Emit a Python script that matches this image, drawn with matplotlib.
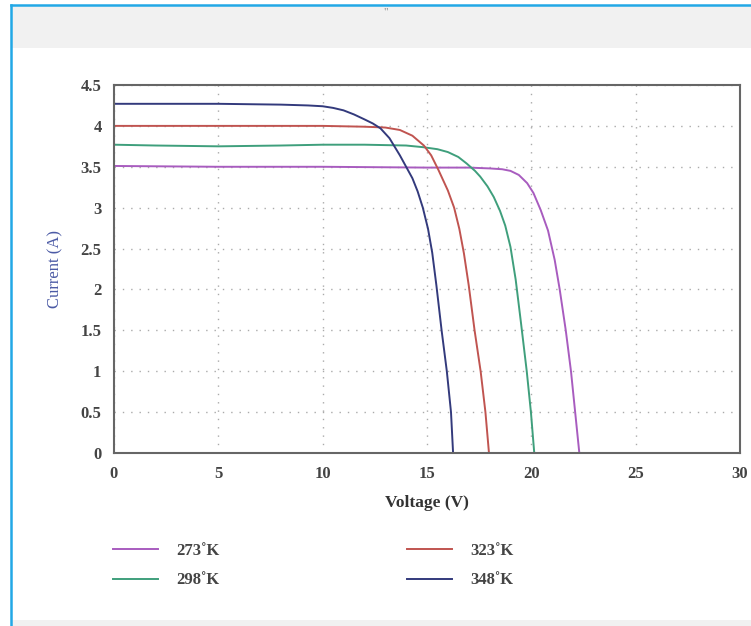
import matplotlib
matplotlib.use("Agg")
import matplotlib.pyplot as plt
from matplotlib.patches import Rectangle
from matplotlib.lines import Line2D

# ---- data ----
labels = ["273˚K", "298˚K", "323˚K", "348˚K"]
colors = ["#a85cbf", "#3f9f7c", "#c05450", "#333a7c"]

v_273 = [0, 5, 10, 15, 17, 18.0, 18.6, 19.0, 19.4, 19.8, 20.1, 20.45, 20.8, 21.12, 21.36, 21.65, 21.9, 22.1, 22.3]
i_273 = [3.51, 3.50, 3.50, 3.49, 3.49, 3.48, 3.47, 3.45, 3.40, 3.30, 3.18, 2.97, 2.72, 2.36, 2.0, 1.5, 1.0, 0.5, 0.0]

v_298 = [0, 2, 5, 8, 10, 12, 14, 14.8, 15.5, 16.0, 16.5, 16.9, 17.3, 17.55, 17.9, 18.2, 18.5, 18.75, 19.0, 19.25, 19.5, 19.78, 19.98, 20.14]
i_298 = [3.77, 3.76, 3.75, 3.76, 3.77, 3.77, 3.76, 3.74, 3.715, 3.68, 3.62, 3.54, 3.45, 3.38, 3.26, 3.13, 2.96, 2.78, 2.52, 2.12, 1.6, 1.0, 0.5, 0.0]

v_323 = [0, 5, 10, 12, 13, 13.7, 14.3, 14.85, 15.2, 15.55, 16.0, 16.3, 16.55, 16.77, 17.0, 17.28, 17.57, 17.8, 17.97]
i_323 = [4.0, 4.0, 4.0, 3.99, 3.98, 3.95, 3.88, 3.76, 3.64, 3.46, 3.21, 3.0, 2.74, 2.44, 2.05, 1.5, 1.0, 0.5, 0.0]

v_348 = [0, 5, 8, 9.3, 10.0, 10.5, 11.0, 11.5, 12.0, 12.4, 12.77, 13.2, 13.7, 14.3, 14.55, 14.8, 15.05, 15.25, 15.45, 15.7, 15.95, 16.15, 16.25]
i_348 = [4.27, 4.27, 4.26, 4.25, 4.24, 4.22, 4.19, 4.14, 4.08, 4.03, 3.97, 3.85, 3.64, 3.36, 3.2, 3.0, 2.74, 2.45, 2.05, 1.5, 1.0, 0.5, 0.0]

series = [(v_273, i_273), (v_298, i_298), (v_323, i_323), (v_348, i_348)]

x_ticks = [0, 5, 10, 15, 20, 25, 30]
y_ticks = [0, 0.5, 1, 1.5, 2, 2.5, 3, 3.5, 4, 4.5]
y_tick_labels = ["0", "0.5", "1", "1.5", "2", "2.5", "3", "3.5", "4", "4.5"]

W, H = 751, 626
fig = plt.figure(figsize=(W / 100, H / 100), dpi=100)
fig.patch.set_facecolor("white")

def fx(px):
    return px / W

def fy(py):
    return 1 - py / H

# page decorations: grey bands and blue frame
fig.patches.append(Rectangle((fx(12), fy(48)), 1, fy(6) - fy(48), transform=fig.transFigure,
                             facecolor="#f1f1f1", edgecolor="none", zorder=0))
fig.patches.append(Rectangle((fx(12), 0), 1, fy(620), transform=fig.transFigure,
                             facecolor="#f1f1f1", edgecolor="none", zorder=0))
fig.lines.append(Line2D([fx(11), 1], [fy(5), fy(5)], transform=fig.transFigure,
                        color="#22a8e6", lw=1.8))
fig.lines.append(Line2D([fx(11), fx(11)], [fy(5), 0], transform=fig.transFigure,
                        color="#22a8e6", lw=1.8))
fig.text(fx(386), fy(12), '"', ha="center", va="center", fontsize=8, color="#888888",
         family="Liberation Serif")

left, right, top, bottom = 114, 740, 85, 453
ax = fig.add_axes([fx(left), fy(bottom), (right - left) / W, (bottom - top) / H])

for (v, i), c, lab in zip(series, colors, labels):
    ax.plot(v, i, color=c, lw=1.4, label=lab, solid_joinstyle="round")

ax.set_xlim(0, 30)
ax.set_ylim(0, 4.5)
ax.set_xticks(x_ticks)
ax.set_yticks(y_ticks)
ax.set_yticklabels(y_tick_labels)
ax.tick_params(length=0, labelsize=12, labelcolor="#444444", pad=9)
for lab in ax.get_xticklabels() + ax.get_yticklabels():
    lab.set_family("Liberation Serif")
    lab.set_fontweight("bold")

ax.grid(True, color="#aaaaaa", lw=1.0, linestyle=(0, (1, 5)))
for s in ax.spines.values():
    s.set_color("#666666")
    s.set_linewidth(1.5)

ax.set_xlabel("Voltage (V)", family="Liberation Serif", fontsize=12.5, color="#333333",
              labelpad=10, fontweight="bold")
ax.set_ylabel("Current (A)", family="Liberation Serif", fontsize=12, color="#4b5aa5",
              labelpad=12)

handles = ax.get_lines()
leg_kw = dict(frameon=False, handlelength=2.7, handletextpad=1.1,
              labelspacing=0.8, borderpad=0, borderaxespad=0, loc="upper left",
              bbox_transform=fig.transFigure,
              prop={"family": "Liberation Serif", "weight": "bold", "size": 12})
leg1 = fig.legend(handles[:2], labels[:2], bbox_to_anchor=(fx(113), fy(543)), **leg_kw)
leg2 = fig.legend(handles[2:], labels[2:], bbox_to_anchor=(fx(407), fy(543)), **leg_kw)
for leg in (leg1, leg2):
    for t in leg.get_texts():
        t.set_color("#444444")

fig.savefig("out.png", dpi=100, facecolor=fig.get_facecolor())
